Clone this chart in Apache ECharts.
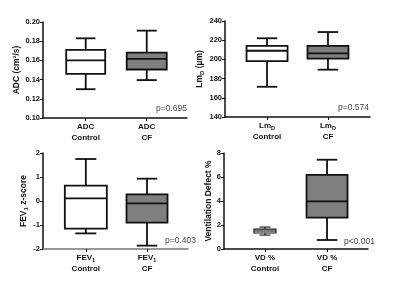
<!DOCTYPE html>
<html>
<head>
<meta charset="utf-8">
<script src="https://cdn.jsdelivr.net/npm/echarts@6/dist/echarts.min.js"></script>
<style>
  html, body { margin: 0; padding: 0; background: #fff; }
  #main { width: 400px; height: 288px; }
</style>
</head>
<body>
<div id="main"></div>
<script>
  // box data: [min, Q1, median, Q3, max]
  var adcControl = [0.130, 0.146, 0.160, 0.171, 0.183];
  var adcCF = [0.1395, 0.1505, 0.1615, 0.168, 0.191];
  var lmControl = [171.5, 198.3, 209, 214, 222];
  var lmCF = [189.3, 200.8, 206.2, 214, 228.5];
  var fevControl = [-1.35, -1.15, 0.11, 0.64, 1.75];
  var fevCF = [-1.86, -0.90, -0.10, 0.28, 0.93];
  var vdControl = [1.16, 1.33, 1.50, 1.66, 1.83];
  var vdCF = [0.75, 2.61, 3.97, 6.17, 7.44];

  var adcCats = ['{b|ADC}\n{b|Control}', '{b|ADC}\n{b|CF}'];
  var lmCats = ['{b|Lm}{s|D}\n{b|Control}', '{b|Lm}{s|D}\n{b|CF}'];
  var fevCats = ['{b|FEV}{s|1}\n{b|Control}', '{b|FEV}{s|1}\n{b|CF}'];
  var vdCats = ['{b|VD %}\n{b|Control}', '{b|VD %}\n{b|CF}'];

  var pValues = ['p=0.695', 'p=0.574', 'p=0.403', 'p<0.001'];

  var FONT = '"Liberation Sans", Arial, sans-serif';

  var charts = echarts.init(document.getElementById('main'));

  // layout per panel
  var panels = [
    { grid: { left: 43, top: 22, width: 144, height: 96 }, xr: [0.3, 2.66], y: [0.10, 0.20, 0.02], fix: 2,
      name: '{b|ADC (cm²/s)}', nameGap: 17, cats: adcCats, boxes: [adcControl, adcCF], widths: [39, 40], lw: [1.8, 1.8],
      axisColor: '#111', p: pValues[0], px: 156, py: 109 },
    { grid: { left: 225, top: 21, width: 145, height: 96 }, xr: [0.31, 2.69], y: [140, 240, 20], fix: 0,
      name: '{b|Lm}{s|D}{b| (µm)}', nameGap: 16, cats: lmCats, boxes: [lmControl, lmCF], widths: [41, 41], lw: [1.8, 1.8],
      axisColor: '#111', p: pValues[1], px: 338, py: 108 },
    { grid: { left: 43, top: 153, width: 145, height: 96 }, xr: [0.3, 2.67], y: [-2, 2, 1], fix: 0,
      name: '{b|FEV}{s|1}{b| z-score}', nameGap: 13, cats: fevCats, boxes: [fevControl, fevCF], widths: [42, 41], lw: [1.8, 1.8],
      axisColor: '#777', p: pValues[2], px: 165, py: 241 },
    { grid: { left: 224, top: 153, width: 144, height: 96 }, xr: [0.34, 2.66], y: [0, 8, 2], fix: 0,
      name: '{b|Ventilation Defect %}', nameGap: 9, cats: vdCats, boxes: [vdControl, vdCF], widths: [22, 41], lw: [1.1, 1.8],
      axisColor: '#111', p: pValues[3], px: 344, py: 242 }
  ];

  var richName = {
    b: { fontFamily: FONT, fontSize: 8.5, fontWeight: 'bold', color: '#111', lineHeight: 11 },
    s: { fontFamily: FONT, fontSize: 6, fontWeight: 'bold', color: '#111', lineHeight: 11, verticalAlign: 'bottom', padding: [4, 0, 0, 0] }
  };
  var richCat = {
    b: { fontFamily: FONT, fontSize: 8, fontWeight: 'bold', color: '#111', lineHeight: 11 },
    s: { fontFamily: FONT, fontSize: 5.5, fontWeight: 'bold', color: '#111', lineHeight: 11, verticalAlign: 'bottom', padding: [3, 0, 0, 0] }
  };

  function renderBox(panel) {
    return function (params, api) {
      var i = params.dataIndex;
      var x = api.value(0);
      var mn = api.coord([x, api.value(1)]);
      var q1 = api.coord([x, api.value(2)]);
      var md = api.coord([x, api.value(3)]);
      var q3 = api.coord([x, api.value(4)]);
      var mx = api.coord([x, api.value(5)]);
      var cx = mn[0];
      var hw = panel.widths[i] / 2;
      var cw = hw / 2;
      var lw = panel.lw[i];
      var fill = i === 0 ? '#ffffff' : '#7f7f7f';
      var st = { stroke: '#111', lineWidth: lw, fill: null };
      return {
        type: 'group',
        children: [
          { type: 'line', shape: { x1: cx, y1: mx[1], x2: cx, y2: q3[1] }, style: st },
          { type: 'line', shape: { x1: cx, y1: q1[1], x2: cx, y2: mn[1] }, style: st },
          { type: 'line', shape: { x1: cx - cw, y1: mx[1], x2: cx + cw, y2: mx[1] }, style: st },
          { type: 'line', shape: { x1: cx - cw, y1: mn[1], x2: cx + cw, y2: mn[1] }, style: st },
          { type: 'rect', shape: { x: cx - hw, y: q3[1], width: hw * 2, height: q1[1] - q3[1] },
            style: { stroke: '#111', lineWidth: lw, fill: fill } },
          { type: 'line', shape: { x1: cx - hw, y1: md[1], x2: cx + hw, y2: md[1] }, style: st }
        ]
      };
    };
  }

  var grid = [], xAxis = [], yAxis = [], series = [], graphic = [];
  panels.forEach(function (p, k) {
    grid.push(p.grid);
    xAxis.push({
      type: 'value', gridIndex: k, min: p.xr[0], max: p.xr[1],
      splitLine: { show: false },
      axisLine: { show: true, onZero: false, lineStyle: { color: p.axisColor, width: 1.5 } },
      axisTick: { show: true, customValues: [1, 2], length: 3, lineStyle: { color: '#111', width: 1 } },
      axisLabel: {
        customValues: [1, 2], margin: 3,
        formatter: function (v) { return p.cats[Math.round(v) - 1]; },
        rich: richCat
      }
    });
    yAxis.push({
      type: 'value', gridIndex: k, min: p.y[0], max: p.y[1], interval: p.y[2],
      splitLine: { show: false },
      axisLine: { show: true, onZero: false, lineStyle: { color: '#111', width: 1.5 } },
      axisTick: { show: true, length: 3, lineStyle: { color: '#111', width: 1 } },
      axisLabel: {
        fontFamily: FONT, fontSize: 7.5, fontWeight: 'bold', color: '#111', margin: 3,
        formatter: function (v) { return v.toFixed(p.fix); }
      },
      name: p.name, nameLocation: 'middle', nameRotate: 90, nameGap: p.nameGap,
      nameTextStyle: { rich: richName }
    });
    series.push({
      type: 'custom', xAxisIndex: k, yAxisIndex: k,
      renderItem: renderBox(p),
      encode: { x: 0, y: [1, 2, 3, 4, 5] },
      data: p.boxes.map(function (b, j) { return [j + 1].concat(b); }),
      silent: true
    });
    graphic.push({
      type: 'text', left: p.px, top: p.py - 5,
      style: { text: p.p, fontFamily: FONT, fontSize: 8.5, fill: '#444' }
    });
  });

  var option = {
    animation: false,
    backgroundColor: '#fff',
    grid: grid,
    xAxis: xAxis,
    yAxis: yAxis,
    series: series,
    graphic: graphic
  };
  charts.setOption(option);
</script>
</body>
</html>
